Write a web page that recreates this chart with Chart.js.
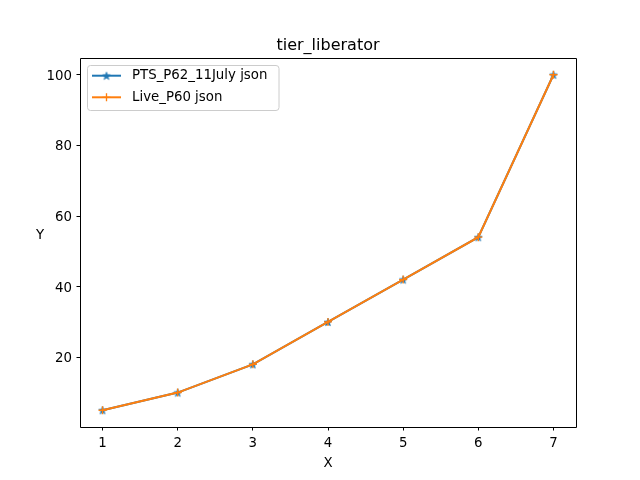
<!DOCTYPE html>
<html>
<head>
<meta charset="utf-8">
<script src="https://cdn.jsdelivr.net/npm/chart.js@4"></script>
<style>
html,body{margin:0;padding:0;background:#fff;}
#wrap{width:640px;height:480px;position:relative;}
</style>
</head>
<body>
<div id="wrap"><canvas id="c" width="640" height="480"></canvas></div>
<script>
const xValues = [1, 2, 3, 4, 5, 6, 7];
const ptsValues = [5, 10, 18, 30, 42, 54, 100];
const liveValues = [5, 10, 18, 30, 42, 54, 100];
const xTicks = [1, 2, 3, 4, 5, 6, 7];
const yTicks = [20, 40, 60, 80, 100];
const seriesLabels = ['PTS_P62_11July json', 'Live_P60 json'];
const titleText = 'tier_liberator';
const xLabel = 'X';
const yLabel = 'Y';

const BLUE = '#1f77b4', ORANGE = '#ff7f0e';
const FONT = '"DejaVu Sans", sans-serif';

function starPath(ctx, cx, cy, R, r) {
  ctx.beginPath();
  for (let i = 0; i < 10; i++) {
    const rad = i % 2 === 0 ? R : r;
    const a = -Math.PI / 2 + i * Math.PI / 5;
    const px = cx + rad * Math.cos(a), py = cy + rad * Math.sin(a);
    if (i === 0) ctx.moveTo(px, py); else ctx.lineTo(px, py);
  }
  ctx.closePath();
}
function makeStar() {
  const c = document.createElement('canvas');
  c.width = 10; c.height = 10;
  const ctx = c.getContext('2d');
  starPath(ctx, 5, 5.4, 4, 1.6);
  ctx.fillStyle = BLUE; ctx.fill();
  ctx.strokeStyle = BLUE; ctx.lineWidth = 0.8; ctx.stroke();
  return c;
}
const starImg = makeStar();

const toXY = (vals) => xValues.map((x, i) => ({x: x, y: vals[i]}));

const decor = {
  id: 'decor',
  afterDraw(chart) {
    const ctx = chart.ctx;
    const L = 80, T = 58, R = 576, B = 427;
    ctx.save();
    // frame
    ctx.strokeStyle = '#000000'; ctx.lineWidth = 1; ctx.setLineDash([]);
    ctx.beginPath();
    ctx.moveTo(L + 0.5, B + 0.5);
    ctx.lineTo(L + 0.5, T + 0.5);
    ctx.lineTo(R + 0.5, T + 0.5);
    ctx.lineTo(R + 0.5, B + 0.5);
    ctx.lineTo(L + 0.5, B + 0.5);
    ctx.stroke();
    // title
    ctx.fillStyle = '#000';
    ctx.textAlign = 'center'; ctx.textBaseline = 'alphabetic';
    ctx.font = '16px ' + FONT;
    ctx.fillText(titleText, (L + R) / 2, 50);
    ctx.font = '13.33px ' + FONT;
    ctx.fillText(xLabel, (L + R) / 2, 467);
    ctx.fillText(yLabel, 40, 239);
    // legend
    const lx = 87.5, ly = 65.5, lw = 191.5, lh = 45;
    ctx.beginPath();
    const rr = 3;
    ctx.moveTo(lx + rr, ly);
    ctx.arcTo(lx + lw, ly, lx + lw, ly + lh, rr);
    ctx.arcTo(lx + lw, ly + lh, lx, ly + lh, rr);
    ctx.arcTo(lx, ly + lh, lx, ly, rr);
    ctx.arcTo(lx, ly, lx + lw, ly, rr);
    ctx.closePath();
    ctx.fillStyle = 'rgba(255,255,255,0.8)'; ctx.fill();
    ctx.strokeStyle = '#cccccc'; ctx.lineWidth = 1; ctx.stroke();
    const rows = [75.7, 97.3];
    chart.data.datasets.forEach((ds, i) => {
      const y = rows[i];
      ctx.strokeStyle = ds.borderColor; ctx.lineWidth = 2;
      ctx.beginPath(); ctx.moveTo(92, y); ctx.lineTo(121, y); ctx.stroke();
      if (i === 0) {
        ctx.drawImage(starImg, 106.5 - 5, y - 5);
      } else {
        ctx.lineWidth = 1.33;
        ctx.beginPath();
        ctx.moveTo(106.5, y - 4); ctx.lineTo(106.5, y + 4);
        ctx.moveTo(102.5, y); ctx.lineTo(110.5, y);
        ctx.stroke();
      }
      ctx.fillStyle = '#000'; ctx.textAlign = 'left'; ctx.textBaseline = 'middle';
      ctx.font = '13.33px ' + FONT;
      ctx.fillText(ds.label, 132, y);
    });
    ctx.restore();
  }
};

new Chart(document.getElementById('c'), {
  type: 'line',
  data: {
    datasets: [
      {label: seriesLabels[0], data: toXY(ptsValues), borderColor: BLUE, backgroundColor: BLUE,
       borderWidth: 2, pointStyle: starImg, pointRadius: 4, order: 1, tension: 0},
      {label: seriesLabels[1], data: toXY(liveValues), borderColor: ORANGE, backgroundColor: ORANGE,
       borderWidth: 2, pointStyle: 'cross', pointRadius: 4, pointBorderWidth: 1.33, order: 0, tension: 0}
    ]
  },
  options: {
    responsive: false,
    animation: false,
    devicePixelRatio: 1,
    layout: {padding: {top: 58, right: 64, left: 0, bottom: 0}},
    plugins: {legend: {display: false}, title: {display: false}, tooltip: {enabled: false}},
    scales: {
      x: {
        type: 'linear', min: 0.7, max: 7.3,
        afterBuildTicks: (s) => { s.ticks = xTicks.map(v => ({value: v})); },
        afterFit: (s) => { s.height = 53; },
        grid: {drawOnChartArea: false, drawTicks: true, tickLength: 3.5, color: '#000', tickWidth: 1},
        border: {display: false},
        ticks: {color: '#000', font: {family: FONT, size: 13.33}, padding: 5, maxRotation: 0,
                callback: (v) => String(v)}
      },
      y: {
        type: 'linear', min: 0.25, max: 104.75,
        afterBuildTicks: (s) => { s.ticks = yTicks.map(v => ({value: v})); },
        afterFit: (s) => { s.width = 80; },
        grid: {drawOnChartArea: false, drawTicks: true, tickLength: 3.5, color: '#000', tickWidth: 1},
        border: {display: false},
        ticks: {color: '#000', font: {family: FONT, size: 13.33}, padding: 4.5, labelOffset: 1.5,
                callback: (v) => String(v)}
      }
    }
  },
  plugins: [decor]
});
</script>
</body>
</html>
